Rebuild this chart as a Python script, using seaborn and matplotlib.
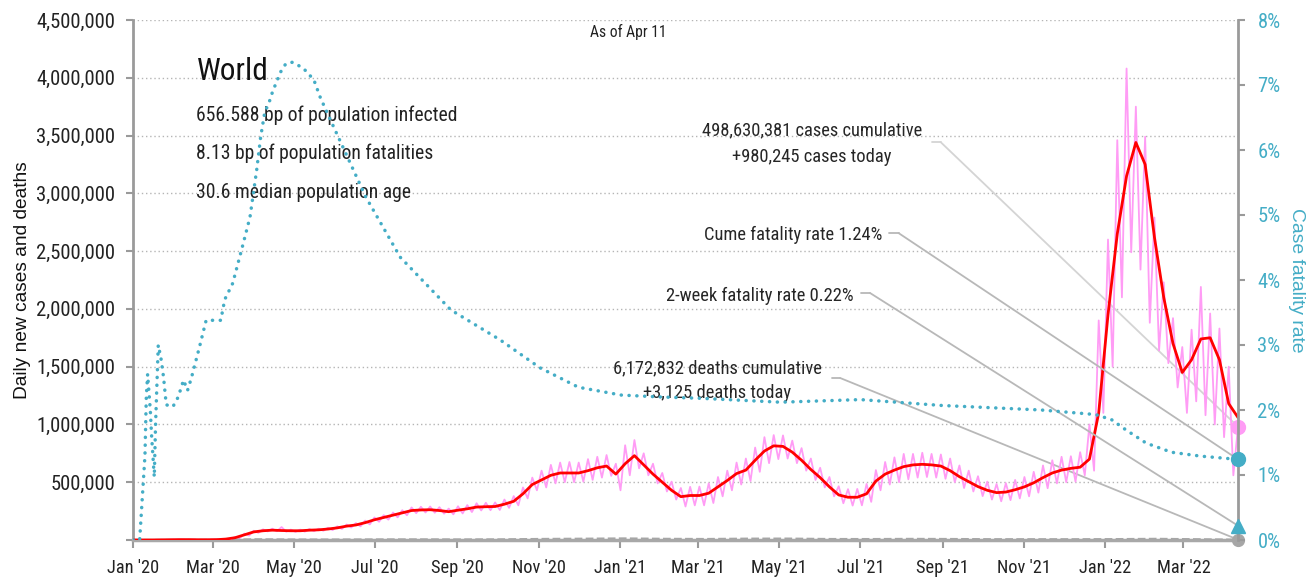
import numpy as np
import pandas as pd
import matplotlib
matplotlib.use("Agg")
import matplotlib.pyplot as plt
import matplotlib.dates as mdates
from matplotlib import font_manager
from matplotlib.ticker import MultipleLocator, FuncFormatter
import seaborn as sns

# ---------------- data ----------------
START = "2020-01-01"
END = "2022-04-11"

# 7-day average of daily new cases (thousands), roughly weekly from Jan 2020 to Apr 11 2022
red_avg_k = [0, 0, 0, 1, 2, 3, 3, 2, 2, 3,
             8, 20, 45, 70, 80, 85, 82, 80, 80, 85,
             88, 95, 105, 120, 130, 150, 175, 195, 215, 235,
             255, 260, 262, 255, 245, 258, 270, 285, 288, 290,
             310, 335, 400, 480, 520, 560, 580, 580, 580, 600,
             625, 640, 570, 660, 730, 650, 570, 500, 430, 375,
             385, 385, 405, 460, 515, 575, 605, 690, 770, 815,
             810, 760, 690, 610, 540, 460, 390, 370, 370, 400,
             510, 570, 605, 635, 650, 655, 650, 640, 600, 548,
             505, 462, 430, 410, 415, 435, 460, 495, 540, 580,
             605, 620, 630, 700, 1100, 1950, 2650, 3150, 3440, 3250,
             2620, 2100, 1700, 1450, 1560, 1740, 1750, 1560, 1180, 1060]

# daily new cases (thousands), twice weekly (weekly high / low)
pink_daily_k = [0, 0, 0, 0, 0, 1, 2, 1, 3, 2, 4, 2, 3, 2, 2, 1, 3, 2, 4, 3,
                10, 6, 25, 16, 55, 38, 80, 62, 92, 74, 98, 76, 112, 72, 90, 70, 90, 72, 95, 76,
                98, 80, 106, 86, 118, 96, 134, 108, 146, 118, 168, 135, 195, 158, 215, 176, 238, 196, 258, 214,
                282, 232, 288, 238, 290, 236, 284, 228, 272, 222, 292, 230, 302, 242, 318, 256, 322, 258, 325, 260,
                350, 278, 380, 300, 455, 360, 540, 430, 600, 455, 650, 490, 670, 500, 675, 500, 670, 505, 700, 520,
                720, 540, 735, 555, 660, 430, 820, 560, 865, 620, 750, 560, 660, 490, 580, 420, 505, 350, 450, 290,
                460, 300, 462, 300, 490, 320, 545, 378, 600, 430, 670, 480, 705, 510, 800, 590, 890, 665, 908, 700,
                905, 705, 860, 665, 795, 600, 705, 520, 625, 455, 545, 378, 465, 318, 440, 298, 442, 300, 485, 330,
                605, 430, 675, 480, 715, 500, 745, 525, 745, 540, 755, 545, 745, 540, 740, 530, 705, 500, 645, 450,
                600, 420, 552, 380, 505, 350, 485, 335, 492, 345, 520, 360, 545, 378, 590, 410, 645, 448, 690, 490,
                720, 500, 725, 505, 760, 560, 1000, 600, 1900, 1100, 2600, 1500, 3460, 2100, 4080, 2490, 3750, 2340, 3490, 1880,
                2790, 1640, 2230, 1530, 1920, 1320, 1670, 1100, 1820, 1200, 2190, 1080, 1960, 1000, 1830, 890, 1500, 560,
                980]

# daily deaths (thousands), monthly
deaths_k = [0, 0.1, 1.5, 6.5, 4.5, 4.5, 5.5, 5.8, 5.3, 6, 9.5, 11.5, 14, 10.5,
            9, 12, 12.5, 9, 8.5, 10, 9, 7.2, 7, 7, 8, 10.5, 7, 3.1]

# case fatality rate (%)
cfr_dates = ["2020-01-01", "2020-01-06", "2020-01-10", "2020-01-11", "2020-01-12", "2020-01-14",
             "2020-01-15", "2020-01-17", "2020-01-18", "2020-01-20", "2020-01-22", "2020-01-24",
             "2020-01-26", "2020-01-31", "2020-02-04", "2020-02-08", "2020-02-11", "2020-02-14",
             "2020-02-20", "2020-02-25", "2020-03-02", "2020-03-07", "2020-03-10", "2020-03-16",
             "2020-03-24", "2020-03-29", "2020-04-03", "2020-04-06", "2020-04-09", "2020-04-13",
             "2020-04-15", "2020-04-21", "2020-04-25", "2020-04-30", "2020-05-08", "2020-05-16",
             "2020-05-21", "2020-05-31", "2020-06-24", "2020-07-20", "2020-08-27", "2020-10-03",
             "2020-11-02", "2020-12-01", "2021-01-02", "2021-02-01", "2021-03-03", "2021-05-02",
             "2021-07-01", "2021-08-31", "2021-11-14", "2021-12-25", "2022-01-06", "2022-01-17",
             "2022-02-01", "2022-02-20", "2022-03-14", "2022-04-11"]
cfr_pct = [0, 0, 1.3, 2.2, 2.55, 2.0, 1.6, 0.97, 1.8, 3.0, 2.8, 2.5,
           2.08, 2.05, 2.2, 2.46, 2.3, 2.5, 2.97, 3.38, 3.38, 3.38, 3.7, 3.95,
           4.57, 4.97, 5.69, 6.2, 6.57, 6.77, 6.9, 7.2, 7.33, 7.35, 7.26, 7.08,
           6.8, 6.35, 5.28, 4.35, 3.54, 3.08, 2.65, 2.35, 2.23, 2.2, 2.18, 2.12,
           2.16, 2.07, 2.0, 1.93, 1.85, 1.69, 1.49, 1.35, 1.29, 1.24]

cases_today = 980245
deaths_today = 3125
cume_cfr = 1.24
twoweek_cfr = 0.22

title = "World"
stats_lines = ["656.588 bp of population infected",
               "8.13 bp of population fatalities",
               "30.6 median population age"]
cases_text = ["498,630,381 cases cumulative", "+980,245 cases today"]
deaths_text = ["6,172,832 deaths cumulative", "+3,125 deaths today"]
cume_text = "Cume fatality rate 1.24%"
twoweek_text = "2-week fatality rate 0.22%"
asof_text = "As of Apr 11"

# ---------------- fonts ----------------
sns.set_theme(style="white")
ttf = font_manager.fontManager.ttflist
names = {f.name for f in ttf}
cond_family, cond_stretch = None, "normal"
for pref in ["Roboto Condensed", "Liberation Sans Narrow", "Open Sans Condensed",
             "Noto Sans Condensed", "DejaVu Sans Condensed"]:
    if pref in names:
        cond_family = pref
        break
if cond_family is None:
    for f in ttf:
        low = f.fname.lower()
        if ("condensed" in low or "narrow" in low) and "bold" not in low and "italic" not in low \
                and "oblique" not in low and "light" not in low:
            cond_family, cond_stretch = f.name, f.stretch
            break
if cond_family is None:
    cond_family = "Liberation Sans" if "Liberation Sans" in names else "DejaVu Sans"
REG = "Liberation Sans" if "Liberation Sans" in names else "DejaVu Sans"
plt.rcParams["font.family"] = [cond_family, "DejaVu Sans"]
plt.rcParams["font.stretch"] = cond_stretch

PINK = "#ff9cf5"
RED = "#ff0000"
TEAL = "#44adc6"
GREY = "#a6a6a6"
SPINE = "#9a9a9a"

fig = plt.figure(figsize=(13.12, 5.8), dpi=100)
renderer = fig.canvas.get_renderer()


def fit(s, target_px, family=None, maxsize=40):
    kw = {} if family is None else {"family": family}
    t = fig.text(0, 0, s, fontsize=10, **kw)
    w = t.get_window_extent(renderer).width
    t.remove()
    return min(maxsize, 10 * target_px / w)


FS_YT = fit("4,500,000", 79)
FS_XT = fit("Jan '20", 52)
FS_RT = fit("7%", 23)
FS_TITLE = fit(title, 72)
FS_STATS = fit(stats_lines[0], 261)
FS_ANN = fit(cume_text, 177)
FS_ASOF = fit(asof_text, 76)
FS_YLAB = fit("Daily new cases and deaths", 238, REG)
FS_RLAB = fit("Case fatality rate", 145, REG)

ax = fig.add_axes([133 / 1312, 40 / 580, 1105 / 1312, 520 / 580])
ax2 = ax.twinx()

df_pink = pd.DataFrame({"date": pd.date_range(START, END, periods=len(pink_daily_k)),
                        "cases": np.array(pink_daily_k) * 1000.0})
df_red = pd.DataFrame({"date": pd.date_range(START, END, periods=len(red_avg_k)),
                       "cases": np.array(red_avg_k) * 1000.0})
df_deaths = pd.DataFrame({"date": pd.date_range(START, END, periods=len(deaths_k)),
                          "deaths": np.array(deaths_k) * 1000.0})
df_cfr = pd.DataFrame({"date": pd.to_datetime(cfr_dates), "cfr": cfr_pct})

sns.lineplot(data=df_pink, x="date", y="cases", ax=ax, color=PINK, lw=1.3, zorder=3)
sns.lineplot(data=df_deaths, x="date", y="deaths", ax=ax, color=GREY, lw=1.5, zorder=3,
             linestyle="--")
sns.lineplot(data=df_red, x="date", y="cases", ax=ax, color=RED, lw=2.0, zorder=4)
sns.lineplot(data=df_cfr, x="date", y="cfr", ax=ax2, color=TEAL, lw=2.5, zorder=5)
ln = ax2.get_lines()[-1]
ln.set_linestyle((0, (0.05, 2.2)))
ln.set_dash_capstyle("round")

xmin, xmax = pd.Timestamp(START), pd.Timestamp(END)
ax.set_xlim(xmin, xmax)
ax.set_ylim(0, 4500000)
ax2.set_ylim(0, 8)

ax.yaxis.set_major_locator(MultipleLocator(500000))
ax.yaxis.set_major_formatter(FuncFormatter(lambda v, p: "" if v == 0 else f"{v:,.0f}"))
ax2.yaxis.set_major_locator(MultipleLocator(1))
ax2.yaxis.set_major_formatter(FuncFormatter(lambda v, p: f"{v:.0f}%"))
ax.xaxis.set_major_locator(mdates.MonthLocator(bymonth=[1, 3, 5, 7, 9, 11]))
ax.xaxis.set_major_formatter(mdates.DateFormatter("%b '%y"))

ax.grid(axis="y", linestyle=(0, (1, 2)), color="#b5b5b5", lw=1.0)
ax.grid(axis="x", visible=False)
ax2.grid(False)

for s in ["top", "right"]:
    ax.spines[s].set_visible(False)
for s in ["top", "left", "bottom"]:
    ax2.spines[s].set_visible(False)
ax.spines["left"].set_color(SPINE)
ax.spines["left"].set_linewidth(2)
ax.spines["bottom"].set_color("#a8a8a8")
ax.spines["bottom"].set_linewidth(2.5)
ax2.spines["right"].set_color(SPINE)
ax2.spines["right"].set_linewidth(2)

ax.tick_params(axis="y", length=5, width=1.5, color=SPINE, labelsize=FS_YT, pad=8, left=True,
               labelcolor="#222222")
ax.tick_params(axis="x", length=6, width=1.5, color=SPINE, labelsize=FS_XT, pad=8, bottom=True,
               labelcolor="#222222")
ax2.tick_params(axis="y", length=5, width=1.5, color=SPINE, labelsize=FS_RT, pad=9, right=True,
                labelcolor=TEAL)

ax.set_xlabel("")
ax.set_ylabel("Daily new cases and deaths", fontsize=FS_YLAB, family=REG, color="#111111",
              va="center")
ax.yaxis.set_label_coords(-0.1, 0.5)
ax2.set_ylabel("Case fatality rate", fontsize=FS_RLAB, family=REG, color=TEAL, rotation=270,
               va="center")
ax2.yaxis.set_label_coords(1.0525, 0.5)

# title block
ax.text(0.058, 0.90, title, transform=ax.transAxes, fontsize=FS_TITLE, va="center", ha="left",
        color="#111111")
for i, s in enumerate(stats_lines):
    ax.text(0.057, 0.817 - i * 0.074, s, transform=ax.transAxes, fontsize=FS_STATS, va="center",
            ha="left", color="#222222")
ax.text(0.448, 0.977, asof_text, transform=ax.transAxes, fontsize=FS_ASOF, va="center",
        ha="center", color="#222222")

# annotations
ax.text(0.6145, 0.788, cases_text[0], transform=ax.transAxes, fontsize=FS_ANN, ha="center", va="center")
ax.text(0.6145, 0.737, cases_text[1], transform=ax.transAxes, fontsize=FS_ANN, ha="center", va="center")
ax.text(0.678, 0.5865, cume_text, transform=ax.transAxes, fontsize=FS_ANN, ha="right", va="center")
ax.text(0.6525, 0.469, twoweek_text, transform=ax.transAxes, fontsize=FS_ANN, ha="right", va="center")
ax.text(0.5285, 0.331, deaths_text[0], transform=ax.transAxes, fontsize=FS_ANN, ha="center", va="center")
ax.text(0.5285, 0.283, deaths_text[1], transform=ax.transAxes, fontsize=FS_ANN, ha="center", va="center")


def leader(axis, x0, x1, y, target, color):
    axis.plot([x0, x1], [y, y], transform=axis.transAxes, color=color, lw=1.3, clip_on=False, zorder=2)
    axis.annotate("", xy=(mdates.date2num(xmax), target), xycoords="data",
                  xytext=(x1, y), textcoords="axes fraction",
                  arrowprops=dict(arrowstyle="-", color=color, lw=1.3, shrinkA=0, shrinkB=0),
                  zorder=2, annotation_clip=False)


leader(ax, 0.723, 0.731, 0.765, cases_today, "#d4d4d4")
leader(ax2, 0.684, 0.693, 0.590, cume_cfr, "#b8b8b8")
leader(ax2, 0.659, 0.667, 0.475, twoweek_cfr, "#b8b8b8")
leader(ax, 0.633, 0.640, 0.3115, deaths_today, "#b8b8b8")

# end markers
ax.plot([xmax], [cases_today], "o", color=PINK, ms=10, clip_on=False, zorder=10)
ax.plot([xmax], [deaths_today], "o", color=GREY, ms=8.5, clip_on=False, zorder=10)
ax2.plot([xmax], [cume_cfr], "o", color=TEAL, ms=10, clip_on=False, zorder=10)
ax2.plot([xmax], [twoweek_cfr], "^", color=TEAL, ms=10, clip_on=False, zorder=10)

fig.savefig("out.png", dpi=100)
